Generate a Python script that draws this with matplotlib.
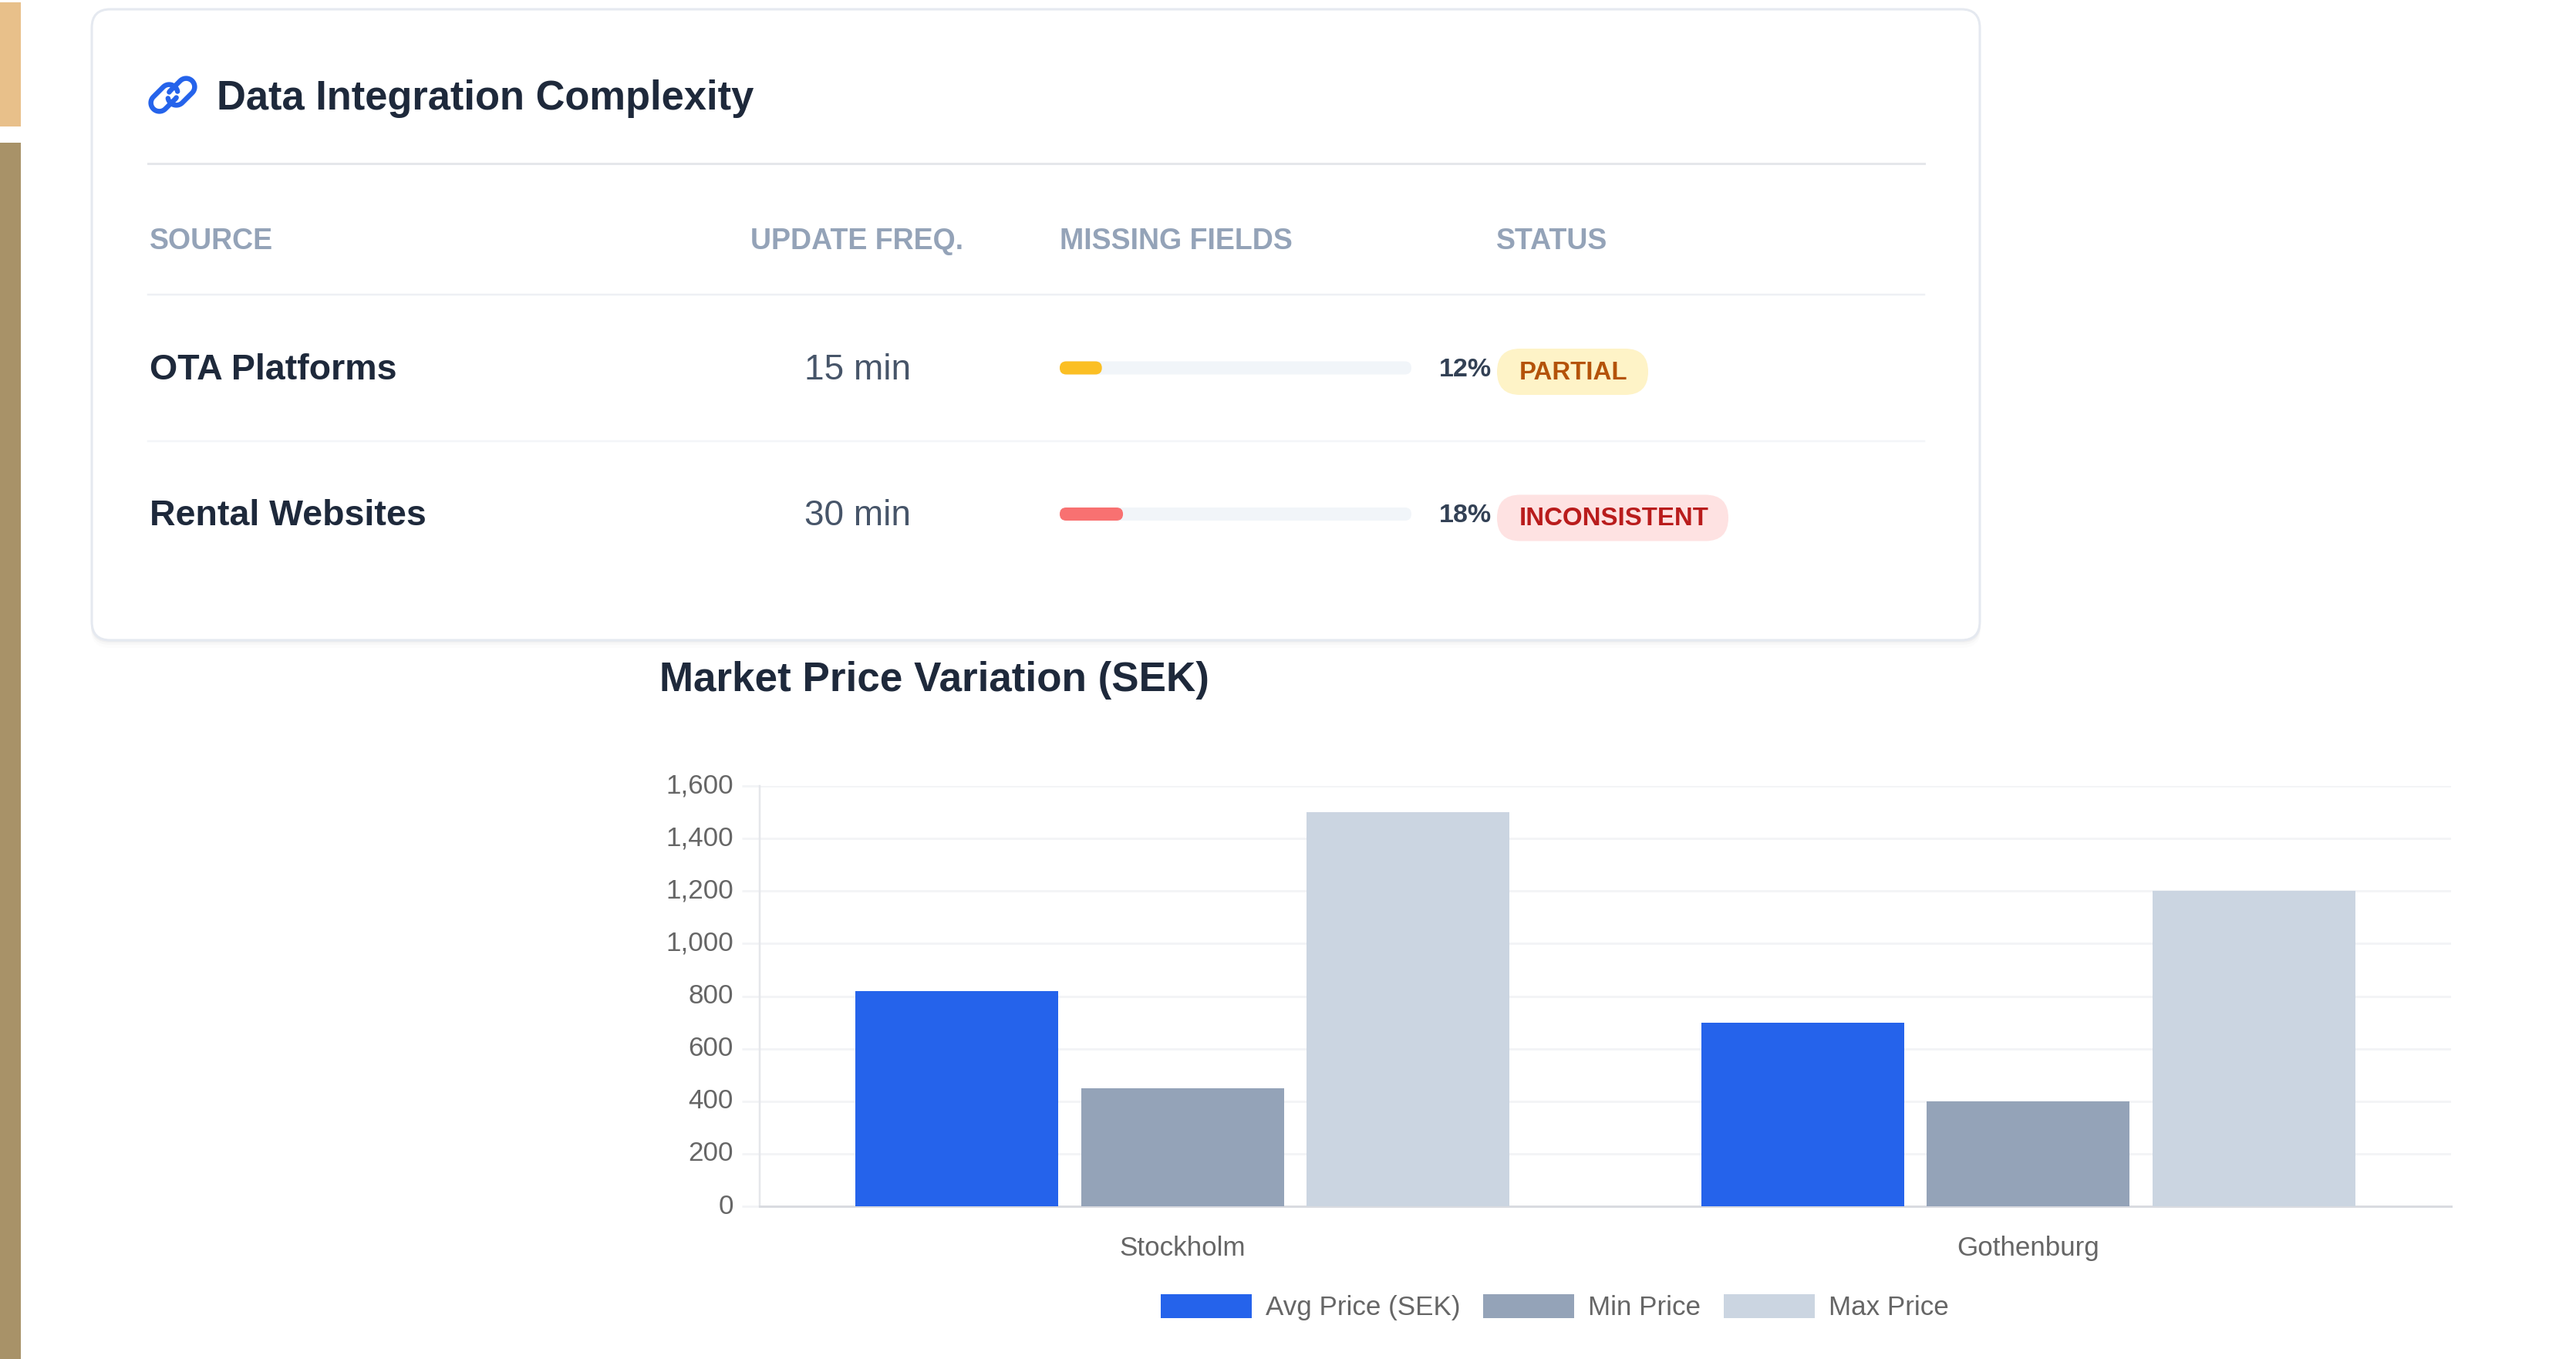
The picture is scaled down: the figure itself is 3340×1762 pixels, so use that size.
import numpy as np
import matplotlib
matplotlib.use("Agg")
import matplotlib.pyplot as plt
from matplotlib.patches import FancyBboxPatch, Rectangle

plt.rcParams["font.family"] = ["Liberation Sans", "DejaVu Sans"]

# tabela
cabecalhos = ["SOURCE", "UPDATE FREQ.", "MISSING FIELDS", "STATUS"]
fontes = ["OTA Platforms", "Rental Websites"]
frequencias = ["15 min", "30 min"]
faltando = [12, 18]
status = ["PARTIAL", "INCONSISTENT"]

# grafico
cidades = ["Stockholm", "Gothenburg"]
series = ["Avg Price (SEK)", "Min Price", "Max Price"]
preco_medio = [820, 700]
preco_min = [450, 400]
preco_max = [1500, 1200]
ticks_y = [0, 200, 400, 600, 800, 1000, 1200, 1400, 1600]

W, H = 3340, 1762
PT = 72 / 100  # px -> pt em dpi 100

ESCURO = "#1e293b"
AZUL = "#2563eb"
CINZA = "#94a3b8"
CLARO = "#cbd5e1"
GRADE = "#f3f4f6"


def caixa(ax, x0, y0, x1, y1, raio, cor, borda="none", lw=0, z=2, alpha=None):
    p = FancyBboxPatch(
        (x0, y0),
        x1 - x0,
        y1 - y0,
        boxstyle=f"round,pad=0,rounding_size={raio}",
        facecolor=cor,
        edgecolor=borda,
        linewidth=lw * PT,
        zorder=z,
        alpha=alpha,
    )
    ax.add_patch(p)


def texto(ax, x, y, s, px, cor, bold=False, ha="left"):
    ax.text(
        x,
        y,
        s,
        fontsize=px * PT,
        color=cor,
        fontweight="bold" if bold else "normal",
        ha=ha,
        va="baseline",
        zorder=5,
    )


def elo(ax, cx, cy, meio, raio, ang, corte):
    # elo de corrente: estadio aberto, desenhado em coordenadas locais
    t = np.linspace(-np.pi / 2, np.pi / 2, 30)
    xs = np.r_[meio + raio * np.cos(t), -meio - raio * np.cos(t)]
    ys = np.r_[raio * np.sin(t), -raio * np.sin(t)]
    keep = np.roll(np.arange(len(xs)), -corte[0])[: corte[1]]
    a = np.radians(ang)
    px = cx + xs[keep] * np.cos(a) - ys[keep] * np.sin(a)
    py = cy - xs[keep] * np.sin(a) - ys[keep] * np.cos(a)
    ax.plot(px, py, color=AZUL, lw=6.5 * PT, solid_capstyle="round", zorder=5)


fig = plt.figure(figsize=(W / 100, H / 100), dpi=100, facecolor="white")

fundo = fig.add_axes([0, 0, 1, 1])
fundo.set_xlim(0, W)
fundo.set_ylim(H, 0)
fundo.axis("off")

# faixas da esquerda
fundo.add_patch(Rectangle((0, 3), 27, 161, facecolor="#e8c08a", edgecolor="none"))
fundo.add_patch(Rectangle((0, 185), 27, H - 185, facecolor="#a89268", edgecolor="none"))

# cartao
for d, a in [(10, 0.012), (6, 0.02), (3, 0.03)]:
    caixa(fundo, 118, 14, 2568, 830 + d, 24, "#0f172a", z=1, alpha=a)
caixa(fundo, 119, 12, 2567, 830, 24, "white", borda="#e5e9f0", lw=3, z=2)

# icone e titulo
elo(fundo, 213, 127, 9, 11, 45, (9, 54))
elo(fundo, 235, 119, 9, 11, 45, (39, 54))
texto(fundo, 281, 142, "Data Integration Complexity", 52.5, ESCURO, bold=True)

fundo.plot([192, 2495], [212, 212], color="#e5e7eb", lw=3 * PT, zorder=3)
fundo.plot([192, 2495], [382, 382], color="#eef0f4", lw=2.5 * PT, zorder=3)
fundo.plot([192, 2495], [572, 572], color="#f3f5f8", lw=2.5 * PT, zorder=3)

# cabecalhos
for s, x in zip(cabecalhos, [194, 973, 1374, 1940]):
    texto(fundo, x, 323, s, 37.5, CINZA, bold=True)

# linhas da tabela
TRILHA_X0, TRILHA_X1 = 1374, 1830
cores_barra = ["#fbbf24", "#f87171"]
cores_pill = ["#fef3c7", "#fee2e2"]
cores_status = ["#b45309", "#b91c1c"]
larg_pill = [196, 300]
for i in range(len(fontes)):
    base = 492 + 189 * i
    texto(fundo, 194, base, fontes[i], 46.5, ESCURO, bold=True)
    texto(fundo, 1112, base, frequencias[i], 46, "#475569", ha="center")

    cy = 477 + 189.5 * i
    caixa(fundo, TRILHA_X0, cy - 8.5, TRILHA_X1, cy + 8.5, 8.5, "#f1f5f9", z=3)
    fim = TRILHA_X0 + (TRILHA_X1 - TRILHA_X0) * faltando[i] / 100
    caixa(fundo, TRILHA_X0, cy - 8.5, fim, cy + 8.5, 8.5, cores_barra[i], z=4)
    texto(fundo, 1866, base - 4, f"{faltando[i]}%", 34, "#334155", bold=True)

    caixa(fundo, 1941, cy - 25, 1941 + larg_pill[i], cy + 35, 30, cores_pill[i], z=3)
    texto(fundo, 1970, base, status[i], 33, cores_status[i], bold=True)

# grafico de barras
ESQ, DIR, TOPO, BASE = 985, 3178, 1019, 1564
ax = fig.add_axes(
    [ESQ / W, 1 - BASE / H, (DIR - ESQ) / W, (BASE - TOPO) / H], facecolor="none"
)
x = np.arange(len(cidades))
passo = 0.8 / 3
larg = 0.24
for k, (vals, cor) in enumerate(
    [(preco_medio, AZUL), (preco_min, CINZA), (preco_max, CLARO)]
):
    ax.bar(x + (k - 1) * passo, vals, larg, color=cor, label=series[k], zorder=3)

ax.set_xlim(-0.5, 1.5)
ax.set_ylim(0, 1600)
ax.set_yticks(ticks_y)
ax.set_yticklabels([f"{v:,}" for v in ticks_y], va="center")
ax.set_xticks(x)
ax.set_xticklabels(cidades)
ax.grid(axis="y", color=GRADE, lw=3 * PT)
ax.set_axisbelow(True)
ax.tick_params(
    axis="y", length=23 * PT, width=3 * PT, color=GRADE, labelsize=35 * PT,
    labelcolor="#666666", pad=11 * PT,
)
ax.tick_params(axis="x", length=0, labelsize=35 * PT, labelcolor="#666666", pad=38 * PT)
for lado in ["top", "right"]:
    ax.spines[lado].set_visible(False)
ax.spines["left"].set_color("#e5e7eb")
ax.spines["left"].set_linewidth(2.5 * PT)
ax.spines["bottom"].set_color("#d9dbe0")
ax.spines["bottom"].set_linewidth(3 * PT)

fundo.text(855, 896, "Market Price Variation (SEK)", fontsize=53 * PT,
           color=ESCURO, fontweight="bold", va="baseline", zorder=5)

ax.legend(
    loc="center",
    bbox_to_anchor=(2016 / W, 1 - 1695 / H),
    bbox_transform=fig.transFigure,
    ncols=3,
    frameon=False,
    fontsize=35 * PT,
    labelcolor="#666666",
    borderpad=0,
    borderaxespad=0,
    handlelength=118 / 35,
    handleheight=35 / 35,
    handletextpad=18 / 35,
    columnspacing=30 / 35,
)

plt.savefig("out.png", dpi=100)
